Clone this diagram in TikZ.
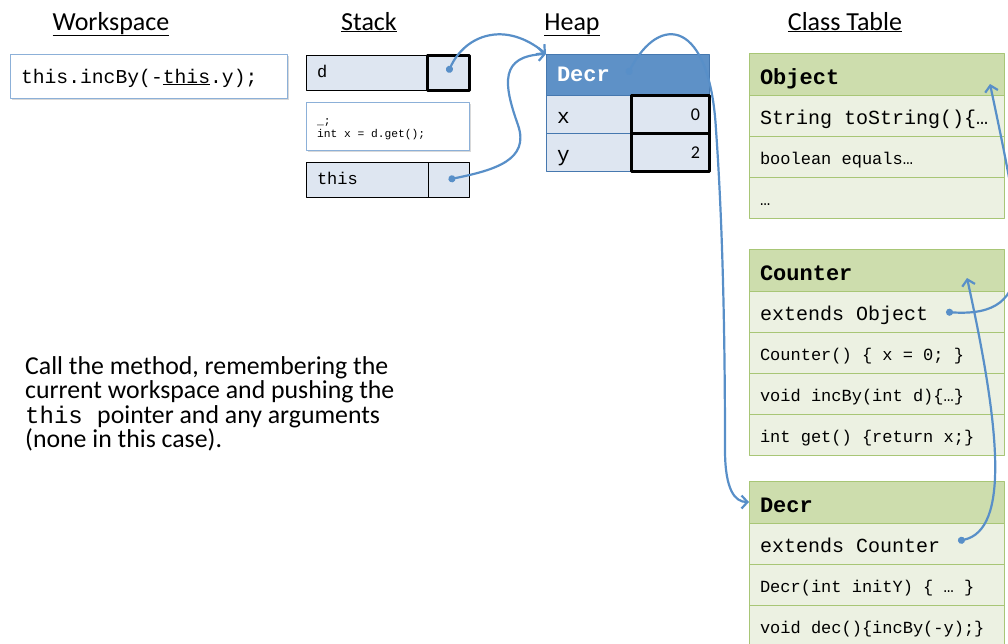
\documentclass[tikz,border=0pt]{standalone}
\usepackage{fontspec}
\setmainfont{Carlito}
\setmonofont{Liberation Mono}
\usepackage{tikz}
\usetikzlibrary{arrows.meta,positioning,shadows}
\definecolor{pointerblue}{RGB}{88,143,200}
\definecolor{wsblue}{RGB}{140,176,216}
\definecolor{stackfill}{RGB}{222,230,241}
\definecolor{heaphead}{RGB}{94,145,199}
\definecolor{heapedge}{RGB}{70,120,175}
\definecolor{classhead}{RGB}{205,221,173}
\definecolor{classrow}{RGB}{236,241,226}
\definecolor{classedge}{RGB}{168,198,118}

\begin{document}
\begin{tikzpicture}[x=1pt,y=-1pt,line join=round,
  monospaces/.style={execute at begin node={\spaceskip=.6em\relax\xspaceskip=.6em\relax}},
  title/.style={anchor=base,inner sep=0pt,font=\fontsize{26}{30}\selectfont},
  codebox/.style={draw=wsblue,fill=white,line width=1pt,anchor=north west,
    inner xsep=11pt,inner ysep=0pt,outer sep=0pt,monospaces,
    drop shadow={shadow xshift=2pt,shadow yshift=-2pt,opacity=.3}},
  stackcell/.style={draw=black,fill=stackfill,line width=.8pt,anchor=north west,
    inner xsep=11pt,inner ysep=0pt,outer sep=0pt,minimum height=35pt,
    text height=11pt,text depth=1pt,font=\ttfamily\fontsize{17}{20}\selectfont},
  refcell/.style={line width=3pt},
  heaphd/.style={draw=heapedge,fill=heaphead,line width=.8pt,anchor=north west,
    inner xsep=11pt,inner ysep=0pt,outer sep=0pt,minimum height=41pt,
    text width=141pt,text height=13pt,text depth=0pt,text=white,
    font=\ttfamily\bfseries\fontsize{22}{24}\selectfont},
  heaplabel/.style={draw=heapedge,fill=stackfill,line width=.8pt,anchor=north west,
    inner xsep=11pt,inner ysep=0pt,outer sep=0pt,minimum height=38pt,
    text width=63pt,text height=18pt,text depth=0pt,
    font=\ttfamily\fontsize{21}{24}\selectfont},
  heapval/.style={draw=black,fill=stackfill,line width=3pt,anchor=north west,
    inner xsep=9pt,inner ysep=0pt,outer sep=0pt,minimum height=38pt,
    text width=60pt,align=right,text height=12pt,text depth=0pt,
    font=\fontsize{18}{20}\selectfont},
  classrowbox/.style={draw=classedge,fill=classrow,line width=.8pt,anchor=north west,
    inner xsep=11pt,inner ysep=0pt,outer sep=0pt,minimum height=41pt,
    text width=233pt,text height=15pt,text depth=0pt,monospaces,
    font=\ttfamily\fontsize{17}{20}\selectfont},
  classhd/.style={classrowbox,fill=classhead,minimum height=42pt,text height=20pt,
    font=\ttfamily\bfseries\fontsize{22}{26}\selectfont},
  bigrow/.style={text height=18pt,font=\ttfamily\fontsize{20}{24}\selectfont},
  pointer/.style={draw=pointerblue,line width=2.2pt,line cap=round,
    {Circle[length=7pt]}-{Straight Barb[length=6pt,width=13pt]}}]
 \useasboundingbox (0,0) rectangle (1008,643);
 \clip (0,0) rectangle (1008,643);

 % column titles
 \node[title] (wstitle) at (111,30) {\underline{Workspace}};
 \node[title] (sttitle) at (369,30) {\underline{Stack}};
 \node[title] (hptitle) at (572,30) {\underline{Heap}};
 \node[title] (cttitle) at (845,30) {\underline{Class Table}};

 % workspace
 \node[codebox,minimum height=44pt,text width=255pt,text height=14pt,text depth=0pt,
   font=\ttfamily\fontsize{19.7}{22}\selectfont] (ws) at (10,54)
   {this.incBy(-\underline{this}.y);};

 % stack
 \node[stackcell,minimum width=121pt,text width=99pt] (dname) at (306,55) {d};
 \node[stackcell,refcell,minimum width=42pt,right=0pt of dname] (dval) {};
 \node[codebox,minimum height=48pt,text width=141pt,text height=10pt,text depth=14pt,
   font=\ttfamily\fontsize{11.25}{13.5}\selectfont] (frame) at (306,102)
   {\_;\\int x = d.get();};
 \node[stackcell,minimum width=122pt,text width=100pt] (thisname) at (306,162) {this};
 \node[stackcell,minimum width=41pt,right=0pt of thisname] (thisval) {};

 % heap
 \node[heaphd] (obj) at (546,54) {Decr};
 \node[heaplabel] (xname) at (546,95) {x};
 \node[heapval,right=0pt of xname] (xval) {0};
 \node[heaplabel,below=0pt of xname] (yname) {y};
 \node[heapval,right=0pt of yname] (yval) {2};

 % class table
 \node[classhd] (ohead) at (749,53) {Object};
 \node[classrowbox,bigrow,below=0pt of ohead] (otostr) {String toString()\{…};
 \node[classrowbox,below=0pt of otostr] (oeq) {boolean equals…};
 \node[classrowbox,below=0pt of oeq] (omore) {…};

 \node[classhd] (chead) at (749,249) {Counter};
 \node[classrowbox,bigrow,below=0pt of chead] (cext) {extends Object};
 \node[classrowbox,below=0pt of cext] (cctor) {Counter() \{ x = 0; \}};
 \node[classrowbox,below=0pt of cctor] (cinc) {void incBy(int d)\{…\}};
 \node[classrowbox,below=0pt of cinc] (cget) {int get() \{return x;\}};

 \node[classhd] (dhead) at (749,481) {Decr};
 \node[classrowbox,bigrow,below=0pt of dhead] (dext) {extends Counter};
 \node[classrowbox,below=0pt of dext] (dctor) {Decr(int initY) \{ … \}};
 \node[classrowbox,below=0pt of dctor] (ddec) {void dec()\{incBy(-y);\}};

 % body text
 \node[anchor=north west,inner sep=0pt,align=left,
   font=\fontsize{25.8}{24.5}\selectfont] (note) at (25,356)
   {Call the method, remembering the\\
    current workspace and pushing the\\
    {\ttfamily\fontsize{24}{24.5}\selectfont this\ }pointer and any arguments\\
    (none in this case).};

 % pointers
 \coordinate (cptr) at (946,312);
 \coordinate (objin) at (990,84);
 \coordinate (dptr) at (958,541);
 \coordinate (ctrin) at (967,278);
 \draw[pointer] (dval.center) .. controls (465,35) and (505,20) .. (obj.north west);
 \draw[pointer] (thisval.center) .. controls (495,170) and (530,160) .. (518,125)
   .. controls (503,83) and (500,56) .. (obj.north west);
 \draw[pointer] (obj.center) .. controls (660,12) and (710,20) .. (716,130)
   .. controls (721,200) and (725,300) .. (725,450)
   .. controls (725,490) and (735,502) .. (dhead.west);
 \draw[pointer] (cptr) .. controls (1040,318) and (1025,250) .. (objin);
 \draw[pointer] (dptr) .. controls (1010,530) and (1000,428) .. (ctrin);
\end{tikzpicture}
\end{document}
